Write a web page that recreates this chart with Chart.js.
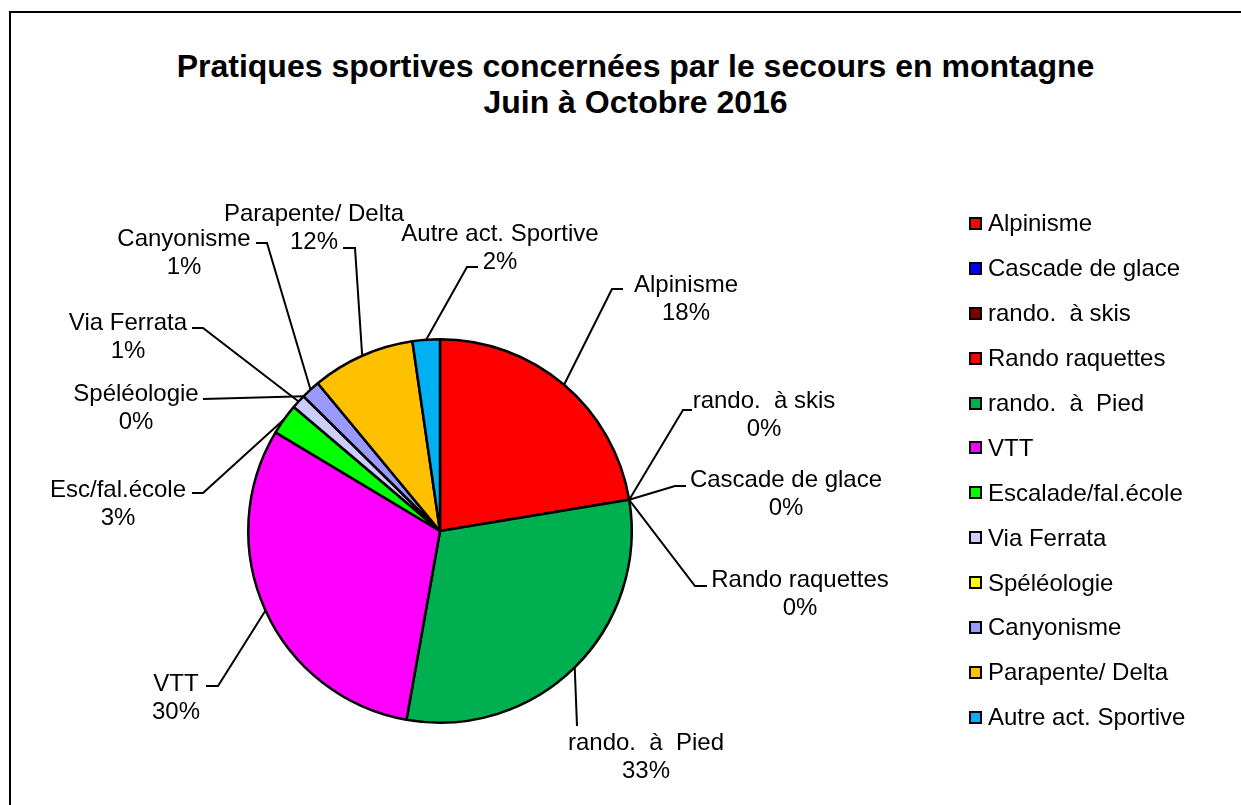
<!DOCTYPE html>
<html lang="fr">
<head>
    <meta charset="UTF-8">
    <title>Pratiques sportives - secours en montagne</title>
    <script src="https://cdn.jsdelivr.net/npm/chart.js"></script>
    <style>
        body {
            margin: 0;
            background: #fff;
            font-family: "Liberation Sans", Arial, sans-serif;
            color: #000;
        }
        .frame {
            position: absolute;
            left: 9px;
            top: 11px;
            width: 1400px;
            height: 1000px;
            border-left: 2px solid #000;
            border-top: 2px solid #000;
        }
        .title {
            position: absolute;
            left: 0;
            width: 1271px;
            top: 48px;
            text-align: center;
            font-weight: bold;
            font-size: 32px;
            line-height: 36px;
        }
        #chart {
            position: absolute;
            left: 0;
            top: 0;
        }
        .legend {
            position: absolute;
            left: 969px;
            top: 201px;
            margin: 0;
            padding: 0;
            list-style: none;
        }
        .legend li {
            height: 44.9px;
            display: flex;
            align-items: center;
            font-size: 24px;
            white-space: pre;
        }
        .legend .box {
            width: 9px;
            height: 9px;
            border: 2px solid #000;
            margin-right: 6px;
        }
    </style>
</head>
<body>
    <div class="frame"></div>
    <div class="title">Pratiques sportives concernées par le secours en montagne<br>Juin à Octobre 2016</div>
    <canvas id="chart" width="1241" height="805"></canvas>
    <ul class="legend" id="legend"></ul>
    <script>
        // data
        const categories = ['Alpinisme', 'Cascade de glace', 'rando.  à skis', 'Rando raquettes', 'rando.  à  Pied', 'VTT',
            'Escalade/fal.école', 'Via Ferrata', 'Spéléologie', 'Canyonisme', 'Parapente/ Delta', 'Autre act. Sportive'];
        const sliceNames = ['Alpinisme', 'Cascade de glace', 'rando.  à skis', 'Rando raquettes', 'rando.  à  Pied', 'VTT',
            'Esc/fal.école', 'Via Ferrata', 'Spéléologie', 'Canyonisme', 'Parapente/ Delta', 'Autre act. Sportive'];
        const values = [22.4, 0, 0, 0, 30.4, 30.8, 2.6, 1.2, 0, 1.6, 8.7, 2.3];
        const percentLabels = ['18%', '0%', '0%', '0%', '33%', '30%', '3%', '1%', '0%', '1%', '12%', '2%'];
        const colors = ['#FF0000', '#0000FF', '#800000', '#FF0000', '#00B050', '#FF00FF',
            '#00FF00', '#CCCCFF', '#FFFF00', '#9999FF', '#FFC000', '#00B0F0'];

        // label placement: text centre x, first line centre y, elbow x, elbow y, tick end x
        const labelLayout = [
            [686, 283, 612, 289, 623],
            [786, 478, 675, 486, 686],
            [764, 399, 683, 410, 692],
            [800, 578, 695, 586, 707],
            [646, 741, 577, 726, 577],
            [176, 682, 218, 686, 206],
            [118, 488, 203, 493, 192],
            [128, 321, 203, 328, 192],
            [136, 392, 203, 399, 203],
            [184, 237, 267, 243, 256],
            [314, 212, 355, 248, 343],
            [500, 232, 467, 267, 478]
        ];

        const legendEl = document.getElementById('legend');
        categories.forEach((name, i) => {
            const li = document.createElement('li');
            const box = document.createElement('span');
            box.className = 'box';
            box.style.background = colors[i];
            li.appendChild(box);
            li.appendChild(document.createTextNode(name));
            legendEl.appendChild(li);
        });

        const leaderPlugin = {
            id: 'leaders',
            afterDatasetsDraw(chart) {
                const ctx = chart.ctx;
                const arcs = chart.getDatasetMeta(0).data;
                ctx.save();
                ctx.strokeStyle = '#000';
                ctx.lineWidth = 2;
                ctx.fillStyle = '#000';
                ctx.font = '24px "Liberation Sans", Arial, sans-serif';
                ctx.textAlign = 'center';
                arcs.forEach((arc, i) => {
                    const p = arc.getProps(['x', 'y', 'startAngle', 'endAngle', 'outerRadius'], true);
                    const mid = (p.startAngle + p.endAngle) / 2;
                    const ax = p.x + Math.cos(mid) * p.outerRadius;
                    const ay = p.y + Math.sin(mid) * p.outerRadius;
                    const [tx, ty, ex, ey, kx] = labelLayout[i];
                    ctx.beginPath();
                    ctx.moveTo(ax, ay);
                    ctx.lineTo(ex, ey);
                    ctx.lineTo(kx, ey);
                    ctx.stroke();
                    ctx.fillText(sliceNames[i], tx, ty + 8.6);
                    ctx.fillText(percentLabels[i], tx, ty + 28 + 8.6);
                });
                ctx.restore();
            }
        };

        new Chart(document.getElementById('chart'), {
            type: 'pie',
            data: {
                labels: categories,
                datasets: [{
                    data: values,
                    backgroundColor: colors,
                    borderColor: '#000',
                    borderWidth: 2.5
                }]
            },
            options: {
                responsive: false,
                animation: false,
                devicePixelRatio: 1,
                layout: {
                    padding: { left: 247, right: 608, top: 338, bottom: 81 }
                },
                plugins: {
                    legend: { display: false },
                    title: { display: false },
                    tooltip: { enabled: false }
                }
            },
            plugins: [leaderPlugin]
        });
    </script>
</body>
</html>
